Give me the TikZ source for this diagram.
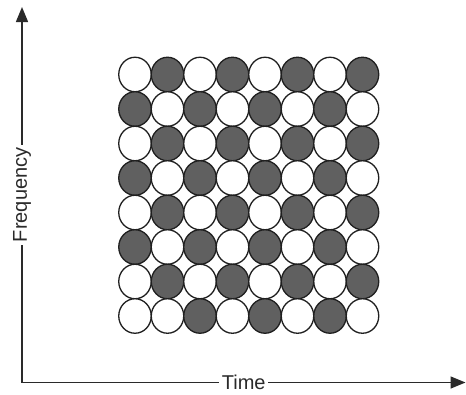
\documentclass[tikz,border=0pt]{standalone}
\usepackage{fontspec}
\setmainfont{Liberation Sans}
\usetikzlibrary{arrows.meta,shapes.geometric}
\definecolor{cgray}{HTML}{606060}
\definecolor{axiscol}{HTML}{2A2A2A}
\definecolor{rimcol}{HTML}{202020}
\begin{document}
\begin{tikzpicture}[x=1pt,y=-1pt,
  axisline/.style={draw=axiscol,line width=1.5pt,-{Triangle[length=15pt,width=12pt]}},
  axislabel/.style={fill=white,inner sep=2.5pt,font=\fontsize{20}{22}\selectfont,text=axiscol},
  cell/.style={ellipse,draw=rimcol,line width=1.3pt,minimum width=32.5pt,minimum height=34.5pt,inner sep=0pt},
  wcell/.style={cell,fill=white},
  gcell/.style={cell,fill=cgray}
]
\useasboundingbox (0,0) rectangle (466,394);
\fill[white] (0,0) rectangle (466,394);
% grid: gray where row+col is odd, except bottom-left cell
\foreach \r in {0,...,7}{
  \foreach \c in {0,...,7}{
    \pgfmathtruncatemacro{\g}{(mod(\r+\c,2)==1) && !((\r==7) && (\c==0))}
    \ifnum\g=1
      \node[gcell] (c\r\c) at ({135+32.5*\c},{74.5+34.5*\r}) {};
    \else
      \node[wcell] (c\r\c) at ({135+32.5*\c},{74.5+34.5*\r}) {};
    \fi
  }
}
\coordinate (o) at (22,382.5);
\coordinate (ytip) at (22,7);
\coordinate (xtip) at (465.5,382.5);
\draw[axisline] (o) -- node[axislabel,rotate=90] (flab) {Frequency} (ytip);
\draw[axisline] (o) -- node[axislabel] (tlab) {Time} (xtip);
\end{tikzpicture}
\end{document}
